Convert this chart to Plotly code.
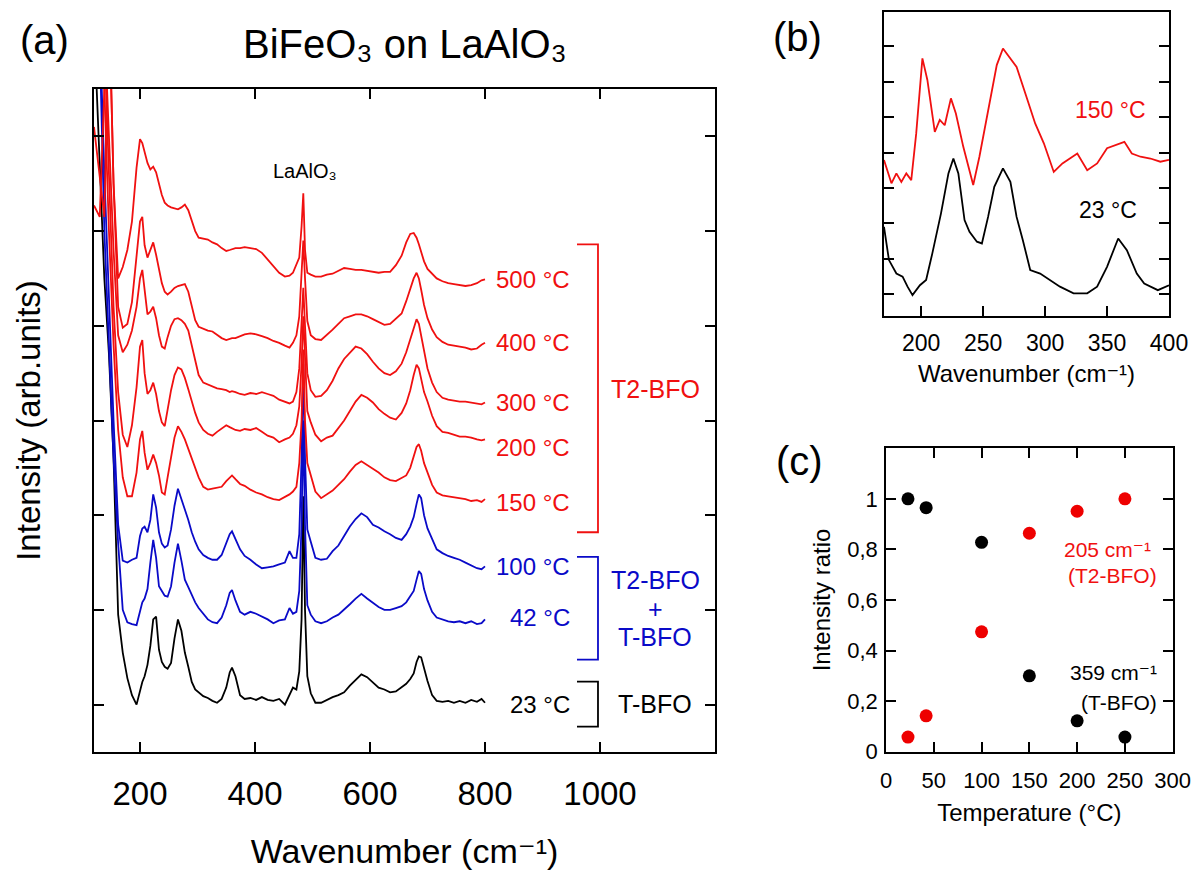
import plotly.graph_objects as go

# ---------------- Panel (a) data: stacked Raman spectra (offset intensity, arb. units)
wn = [120, 130, 138, 146, 154, 162, 170, 178, 186, 194,
      200, 204, 208, 213, 218, 223, 228, 233, 238, 243,
      248, 254, 260, 266, 272, 278, 284, 290, 296, 302,
      310, 318, 326, 334, 342, 350, 356, 360, 366, 374,
      382, 392, 402, 412, 422, 432, 442, 452, 460, 466,
      472, 477, 481, 484, 487, 491, 497, 505, 515, 525,
      535, 545, 555, 565, 575, 585, 595, 605, 615, 625,
      635, 645, 655, 663, 670, 676, 681, 685, 689, 694,
      700, 708, 716, 726, 736, 746, 756, 766, 776, 786,
      794, 800]

int_23 = [7.2, 5.6, 4.5, 3.7, 2.6, 0.95, 0.55, 0.28, 0.10, 0.00,
          0.15, 0.24, 0.30, 0.42, 0.62, 0.90, 0.93, 0.58, 0.45, 0.40,
          0.38, 0.44, 0.70, 0.90, 0.78, 0.55, 0.40, 0.24, 0.16, 0.13,
          0.09, 0.07, 0.04, 0.02, 0.06, 0.18, 0.34, 0.39, 0.30, 0.10,
          0.06, 0.07, 0.05, 0.08, 0.05, 0.04, 0.06, 0.00, 0.10, 0.18,
          0.16, 0.35, 0.9, 2.2, 1.0, 0.30, 0.12, 0.02, 0.02, 0.05,
          0.08, 0.10, 0.13, 0.20, 0.26, 0.32, 0.29, 0.23, 0.18, 0.16,
          0.13, 0.14, 0.18, 0.22, 0.27, 0.33, 0.45, 0.51, 0.50, 0.38,
          0.25, 0.10, 0.04, 0.03, 0.04, 0.02, 0.04, 0.02, 0.05, 0.03,
          0.06, 0.02]

int_42 = [7.5, 7.0, 5.0, 3.8, 2.6, 1.7, 1.0, 0.87, 0.85, 0.84,
          0.98, 1.08, 1.12, 1.22, 1.50, 1.74, 1.55, 1.25, 1.20, 1.15,
          1.14, 1.25, 1.50, 1.70, 1.52, 1.32, 1.24, 1.16, 1.08, 1.02,
          0.96, 0.90, 0.87, 0.86, 0.92, 1.05, 1.18, 1.21, 1.10, 0.98,
          0.95, 0.98, 0.96, 0.93, 0.90, 0.86, 0.89, 0.90, 1.02, 0.96,
          0.98, 1.20, 1.9, 3.0, 1.9, 1.05, 0.95, 0.88, 0.86, 0.88,
          0.92, 0.95, 1.00, 1.06, 1.12, 1.17, 1.12, 1.07, 1.03, 1.00,
          1.00, 1.02, 1.04, 1.08, 1.14, 1.20, 1.32, 1.41, 1.38, 1.22,
          1.10, 0.98, 0.92, 0.90, 0.88, 0.87, 0.88, 0.86, 0.88, 0.85,
          0.86, 0.90]

int_100 = [7.5, 7.2, 5.6, 4.2, 3.0, 1.9, 1.52, 1.50, 1.53, 1.55,
           1.78, 1.86, 1.88, 1.82, 1.95, 2.22, 2.08, 1.82, 1.70, 1.66,
           1.68, 1.85, 2.10, 2.28, 2.18, 2.06, 1.95, 1.82, 1.72, 1.64,
           1.58, 1.55, 1.53, 1.53, 1.58, 1.70, 1.80, 1.83, 1.75, 1.64,
           1.57, 1.53, 1.48, 1.44, 1.45, 1.46, 1.48, 1.50, 1.62, 1.55,
           1.55, 1.80, 2.6, 3.6, 2.6, 1.85, 1.72, 1.55, 1.53, 1.54,
           1.62, 1.68, 1.78, 1.88, 1.96, 2.02, 1.98, 1.90, 1.87, 1.83,
           1.80, 1.76, 1.74, 1.80, 1.88, 1.98, 2.12, 2.22, 2.18, 2.00,
           1.86, 1.74, 1.64, 1.60, 1.57, 1.55, 1.53, 1.50, 1.47, 1.44,
           1.43, 1.46]

int_150 = [7.5, 7.5, 6.5, 5.0, 3.8, 2.9, 2.40, 2.20, 2.20, 2.45,
           2.80, 2.89, 2.66, 2.48, 2.55, 2.64, 2.55, 2.42, 2.24, 2.22,
           2.40, 2.62, 2.82, 2.94, 2.88, 2.80, 2.70, 2.58, 2.48, 2.40,
           2.30, 2.27, 2.28, 2.29, 2.30, 2.36, 2.40, 2.42, 2.38, 2.33,
           2.31, 2.27, 2.24, 2.22, 2.19, 2.17, 2.16, 2.19, 2.22, 2.25,
           2.30, 2.55, 3.0, 3.75, 3.0, 2.55, 2.42, 2.25, 2.18, 2.22,
           2.26, 2.32, 2.38, 2.46, 2.53, 2.57, 2.53, 2.49, 2.45, 2.40,
           2.37, 2.36, 2.39, 2.42, 2.50, 2.62, 2.72, 2.75, 2.68, 2.55,
           2.45, 2.32, 2.24, 2.21, 2.20, 2.19, 2.18, 2.17, 2.15, 2.16,
           2.14, 2.17]

int_200 = [7.5, 7.5, 7.0, 5.5, 4.2, 3.3, 2.85, 2.72, 2.95, 3.35,
           3.78, 3.85, 3.50, 3.28, 3.32, 3.40, 3.28, 3.10, 2.98, 2.94,
           3.12, 3.32, 3.48, 3.56, 3.54, 3.45, 3.33, 3.20, 3.08, 2.98,
           2.90, 2.86, 2.84, 2.88, 2.92, 2.95, 2.93, 2.92, 2.90, 2.89,
           2.91, 2.90, 2.92, 2.88, 2.84, 2.82, 2.77, 2.80, 2.82, 2.86,
           2.95, 3.15, 3.6, 4.1, 3.6, 3.10, 2.98, 2.85, 2.78, 2.82,
           2.84, 2.92, 3.00, 3.10, 3.20, 3.27, 3.24, 3.19, 3.12, 3.07,
           3.03, 3.01, 3.08, 3.18, 3.32, 3.48, 3.59, 3.55, 3.45, 3.30,
           3.20, 3.05, 2.94, 2.88, 2.87, 2.85, 2.83, 2.83, 2.82, 2.80,
           2.79, 2.80]

int_300 = [7.5, 7.5, 7.2, 6.0, 4.8, 3.9, 3.72, 3.80, 3.95, 4.20,
           4.50, 4.59, 4.35, 4.12, 4.15, 4.20, 4.08, 3.90, 3.78, 3.76,
           3.88, 4.00, 4.07, 4.08, 4.06, 4.02, 3.95, 3.80, 3.62, 3.48,
           3.40, 3.38, 3.36, 3.34, 3.33, 3.32, 3.30, 3.31, 3.30, 3.28,
           3.27, 3.29, 3.28, 3.30, 3.28, 3.26, 3.22, 3.20, 3.18, 3.20,
           3.30, 3.55, 4.0, 4.4, 4.0, 3.50, 3.32, 3.25, 3.26, 3.32,
           3.42, 3.55, 3.65, 3.72, 3.78, 3.76, 3.70, 3.62, 3.55, 3.50,
           3.48, 3.52, 3.60, 3.72, 3.85, 3.98, 4.07, 4.02, 3.90, 3.72,
           3.55, 3.40, 3.30, 3.24, 3.22, 3.21, 3.20, 3.20, 3.19, 3.18,
           3.17, 3.19]

int_400 = [5.27, 5.15, 6.5, 7.5, 5.5, 4.2, 3.98, 4.02, 4.25, 4.70,
           5.10, 5.15, 4.85, 4.72, 4.80, 4.88, 4.75, 4.60, 4.45, 4.36,
           4.33, 4.36, 4.40, 4.42, 4.43, 4.44, 4.36, 4.22, 4.06, 3.99,
           3.97, 3.95, 3.94, 3.90, 3.87, 3.85, 3.86, 3.87, 3.87, 3.89,
           3.91, 3.92, 3.91, 3.89, 3.87, 3.84, 3.82, 3.79, 3.77, 3.82,
           3.90, 4.10, 4.5, 4.9, 4.5, 4.05, 3.90, 3.86, 3.85, 3.90,
           3.96, 4.02, 4.08, 4.10, 4.12, 4.12, 4.10, 4.07, 4.04, 4.01,
           4.02, 4.08, 4.13, 4.26, 4.38, 4.50, 4.56, 4.50, 4.38, 4.22,
           4.08, 3.96, 3.88, 3.83, 3.80, 3.79, 3.78, 3.77, 3.75, 3.76,
           3.80, 3.82]

int_500 = [6.10, 5.6, 5.15, 7.5, 5.5, 4.50, 4.62, 4.80, 5.10, 5.67,
           5.97, 5.93, 5.84, 5.72, 5.65, 5.68, 5.62, 5.50, 5.38, 5.30,
           5.27, 5.25, 5.24, 5.23, 5.25, 5.28, 5.22, 5.12, 5.00, 4.93,
           4.92, 4.91, 4.88, 4.86, 4.82, 4.79, 4.80, 4.81, 4.82, 4.82,
           4.83, 4.82, 4.81, 4.77, 4.70, 4.62, 4.56, 4.52, 4.53, 4.56,
           4.65, 4.72, 5.05, 5.40, 4.80, 4.56, 4.54, 4.52, 4.52, 4.54,
           4.55, 4.58, 4.61, 4.60, 4.59, 4.59, 4.58, 4.57, 4.56, 4.57,
           4.57, 4.64, 4.74, 4.88, 4.97, 4.98, 4.93, 4.86, 4.78, 4.68,
           4.60, 4.55, 4.50, 4.47, 4.45, 4.44, 4.43, 4.42, 4.43, 4.45,
           4.48, 4.49]

temp_labels = ["23 °C", "42 °C", "100 °C", "150 °C", "200 °C", "300 °C", "400 °C", "500 °C"]
label_y = [0.0, 0.92, 1.46, 2.13, 2.72, 3.19, 3.82, 4.49]

# ---------------- Panel (b) data
b_wn_23 = [170, 174, 180, 185, 189, 193, 199, 204, 209, 216, 222, 226, 230, 235, 239,
           245, 249, 254, 259, 266, 272, 277, 282, 288, 296, 304, 312, 323, 334, 342,
           350, 359, 366, 374, 380, 391, 400]
b_int_23 = [1.90, 0.96, 0.58, 0.49, 0.21, -0.03, 0.25, 0.40, 1.15, 2.28, 3.41, 3.83, 3.41, 2.09, 1.76,
            1.48, 1.43, 2.18, 3.03, 3.55, 3.17, 2.18, 1.53, 0.68, 0.58, 0.40, 0.21, 0.02, 0.02, 0.21,
            0.77, 1.57, 1.24, 0.58, 0.30, 0.11, 0.25]
b_wn_150 = [170, 176, 180, 184, 188, 192, 196, 201, 205, 211, 215, 219, 224, 228, 234,
            238, 242, 247, 254, 261, 266, 270, 277, 285, 292, 299, 307, 314, 326, 334,
            342, 350, 364, 370, 377, 385, 393, 400]
b_int_150 = [3.79, 3.13, 3.41, 3.17, 3.41, 3.22, 4.54, 6.66, 6.05, 4.58, 4.92, 4.77, 5.53, 5.10, 4.16,
             3.60, 3.08, 3.88, 5.20, 6.47, 6.94, 6.75, 6.42, 5.57, 4.82, 4.26, 3.45, 3.69, 3.97, 3.50,
             3.69, 4.12, 4.30, 3.97, 3.88, 3.83, 3.74, 3.79]

# ---------------- Panel (c) data
temp_c = [23, 42, 100, 150, 200, 250]
ratio_359 = [1.0, 0.965, 0.828, 0.30, 0.122, 0.058]
ratio_205 = [0.058, 0.142, 0.474, 0.864, 0.951, 1.0]

RED = "#f01010"
BLUE = "#0a0ac8"
BLACK = "#000000"
FONT = "Liberation Sans, Arial, DejaVu Sans, sans-serif"
OFF = 8                      # page body margin of the html page
W, H = 1203 - OFF, 884 - OFF


def px(x):
    return (x - OFF) / W


def py(y):
    return 1 - (y - OFF) / H


fig = go.Figure()

series = [(int_23, BLACK), (int_42, BLUE), (int_100, BLUE), (int_150, RED),
          (int_200, RED), (int_300, RED), (int_400, RED), (int_500, RED)]
for (vals, col), name in zip(series, temp_labels):
    fig.add_trace(go.Scatter(x=wn, y=vals, mode="lines", name=name,
                             line=dict(color=col, width=1.8), xaxis="x", yaxis="y",
                             showlegend=False))

fig.add_trace(go.Scatter(x=b_wn_150, y=b_int_150, mode="lines", line=dict(color=RED, width=1.8),
                         xaxis="x2", yaxis="y2", showlegend=False))
fig.add_trace(go.Scatter(x=b_wn_23, y=b_int_23, mode="lines", line=dict(color=BLACK, width=1.8),
                         xaxis="x2", yaxis="y2", showlegend=False))

fig.add_trace(go.Scatter(x=temp_c, y=ratio_359, mode="markers", marker=dict(color=BLACK, size=13),
                         xaxis="x3", yaxis="y3", showlegend=False))
fig.add_trace(go.Scatter(x=temp_c, y=ratio_205, mode="markers", marker=dict(color="#ee0000", size=13),
                         xaxis="x3", yaxis="y3", showlegend=False))

axis_common = dict(showgrid=False, zeroline=False, showline=True, linecolor="black", linewidth=1.6,
                   ticks="inside", ticklen=10, tickwidth=1.5, tickcolor="black", automargin=False)

fig.update_layout(
    template="none",
    width=W, height=H, margin=dict(l=0, r=0, t=0, b=0, pad=0),
    paper_bgcolor="white", plot_bgcolor="white",
    font=dict(family=FONT, color="black"),
    xaxis=dict(domain=[px(94), px(715)], range=[120, 1200], anchor="y",
               tickvals=[200, 400, 600, 800, 1000], mirror="ticks",
               tickfont=dict(size=33), ticklabelstandoff=12,
               title=dict(text="Wavenumber (cm⁻¹)", font=dict(size=34), standoff=28),
               **axis_common),
    yaxis=dict(domain=[py(752), py(89)], range=[-0.5, 6.5], anchor="x",
               tickvals=[0, 1, 2, 3, 4, 5, 6], showticklabels=False, mirror="ticks",
               title=dict(text="Intensity (arb.units)", font=dict(size=33), standoff=42),
               **axis_common),
    xaxis2=dict(domain=[px(884), px(1169)], range=[170, 400], anchor="y2",
                tickvals=[200, 250, 300, 350, 400], mirror=True,
                tickfont=dict(size=23), ticklabelstandoff=6,
                title=dict(text="Wavenumber (cm⁻¹)", font=dict(size=24), standoff=10),
                **axis_common),
    yaxis2=dict(domain=[py(316), py(12)], range=[-0.62, 7.97], anchor="x2",
                tickvals=[0, 1, 2, 3, 4, 5, 6, 7], showticklabels=False, mirror="ticks",
                **axis_common),
    xaxis3=dict(domain=[px(886), px(1172.7)], range=[0, 300], anchor="y3",
                tickvals=[0, 50, 100, 150, 200, 250, 300], mirror="ticks",
                tickfont=dict(size=22), ticklabelstandoff=8,
                title=dict(text="Temperature (°C)", font=dict(size=24), standoff=12),
                **axis_common),
    yaxis3=dict(domain=[py(751.7), py(448.3)], range=[0, 1.2], anchor="x3",
                tickvals=[0, 0.2, 0.4, 0.6, 0.8, 1.0],
                ticktext=["0", "0,2", "0,4", "0,6", "0,8", "1"], mirror="ticks",
                tickfont=dict(size=22), ticklabelstandoff=2,
                title=dict(text="Intensity ratio", font=dict(size=24), standoff=10),
                **axis_common),
)


def paper_text(text, x, y, size, color=BLACK):
    return dict(text=text, x=px(x), y=py(y), xref="paper", yref="paper", showarrow=False,
                xanchor="center", yanchor="middle", font=dict(size=size, color=color))


def data_text(text, x, y, ax, size, color=BLACK, xanchor="center"):
    return dict(text=text, x=x, y=y, xref="x" + ax, yref="y" + ax, showarrow=False,
                xanchor=xanchor, yanchor="middle", font=dict(size=size, color=color))


ann = [
    paper_text("(a)", 44, 40, 40),
    paper_text("(b)", 798, 37, 40),
    paper_text("(c)", 799, 461, 40),
    paper_text("BiFeO₃ on LaAlO₃", 405, 44, 40),
    data_text("LaAlO₃", 487, 5.63, "", 20),
]

label_cols = [BLACK, BLUE, BLUE, RED, RED, RED, RED, RED]
for t, yv, c in zip(temp_labels, label_y, label_cols):
    ann.append(data_text(t, 951, yv, "", 24, c, xanchor="right"))

ann.append(data_text("T2-BFO", 1096, 3.33, "", 25, RED))
ann.append(data_text("T2-BFO", 1096, 1.32, "", 25, BLUE))
ann.append(data_text("+", 1096, 1.01, "", 25, BLUE))
ann.append(data_text("T-BFO", 1096, 0.71, "", 25, BLUE))
ann.append(data_text("T-BFO", 1096, 0.01, "", 25, BLACK))

# panel (b) labels
ann.append(data_text("150 °C", 352.7, 5.20, "2", 23, RED))
ann.append(data_text("23 °C", 351, 2.37, "2", 23, BLACK))

# panel (c) labels
ann.append(data_text("205 cm⁻¹", 232, 0.80, "3", 21, RED))
ann.append(data_text("(T2-BFO)", 237, 0.697, "3", 21, RED))
ann.append(data_text("359 cm⁻¹", 238, 0.314, "3", 21, BLACK))
ann.append(data_text("(T-BFO)", 244, 0.196, "3", 21, BLACK))

fig.update_layout(annotations=ann)

# group brackets in panel (a)
brackets = [(4.86, 1.82, RED), (1.56, 0.475, BLUE), (0.243, -0.232, BLACK)]
shapes = []
for top, bot, c in brackets:
    shapes.append(dict(type="path", xref="x", yref="y",
                       path=f"M 960 {top} L 996.5 {top} L 996.5 {bot} L 960 {bot}",
                       line=dict(color=c, width=1.8)))
fig.update_layout(shapes=shapes)

fig.write_html("out.html")
